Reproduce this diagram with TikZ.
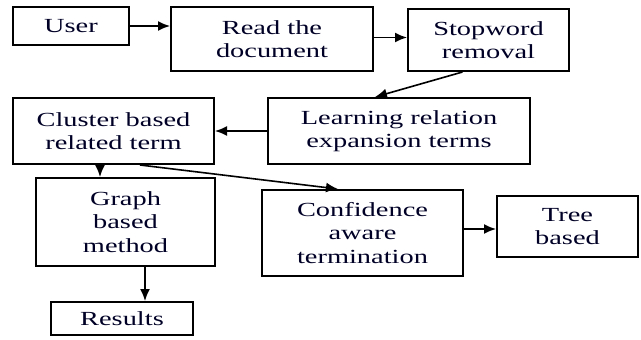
\documentclass[tikz,border=0pt]{standalone}
\usepackage{fontspec}
\setmainfont[FakeStretch=1.42]{Liberation Serif}
\usetikzlibrary{arrows.meta}
\begin{document}
\begin{tikzpicture}[x=1pt,y=-1pt,
  box/.style={draw=black,line width=2pt,inner sep=0pt,align=center,
    font=\fontsize{20}{23.5}\selectfont,text=black!85!blue},
  arr/.style={line width=1.6pt,-{Latex[length=12pt,width=10pt]}}]
\useasboundingbox (0,0) rectangle (641,340);
\node[box,minimum width=116pt,minimum height=38pt] (user) at (71,26) {User};
\node[box,minimum width=202pt,minimum height=64pt] (read) at (272,39) {Read the\\document};
\node[box,minimum width=161pt,minimum height=62pt] (stop) at (488.5,40) {Stopword\\removal};
\node[box,minimum width=262pt,minimum height=66pt] (learn) at (399,131) {Learning relation\\expansion terms};
\node[box,minimum width=201pt,minimum height=66pt] (cluster) at (113.5,131) {Cluster based\\related term};
\node[box,minimum width=179pt,minimum height=88pt] (graph) at (125.5,222) {Graph\\based\\method};
\node[box,minimum width=201pt,minimum height=86pt] (conf) at (362.5,233) {Confidence\\aware\\termination};
\node[box,minimum width=141pt,minimum height=61pt] (tree) at (567.5,226.5) {Tree\\based};
\node[box,minimum width=142pt,minimum height=33pt] (results) at (122,318.5) {Results};
\coordinate (ra) at ([yshift=1.5pt]read.east);
\coordinate (ca) at ([yshift=4pt]conf.east);
\coordinate (cg) at ([xshift=-13.5pt]cluster.south);
\coordinate (gr) at ([xshift=19.5pt]graph.south);
\draw[arr] (user.east) -- (read.west |- user.east);
\draw[arr] (ra) -- (stop.west |- ra);
\draw[arr] ([xshift=-26pt]stop.south) -- ([xshift=-24pt]learn.north);
\draw[arr] (learn.west) -- (cluster.east);
\draw[arr] (cg) -- (cg |- graph.north);
\draw[arr] ([xshift=26.5pt]cluster.south) -- ([xshift=-24.5pt]conf.north);
\draw[arr] (gr) -- (gr |- results.north);
\draw[arr] (ca) -- (tree.west |- ca);
\end{tikzpicture}
\end{document}
